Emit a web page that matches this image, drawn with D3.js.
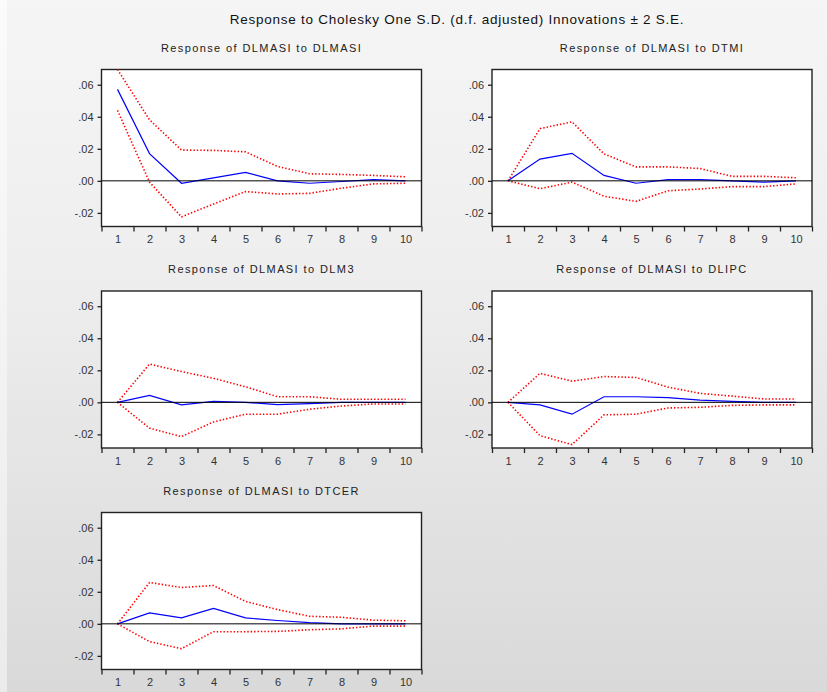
<!DOCTYPE html>
<html>
<head>
<meta charset="utf-8">
<script src="https://cdnjs.cloudflare.com/ajax/libs/d3/7.8.5/d3.min.js"></script>
<style>
  html, body { margin: 0; padding: 0; background: #e8e8e8; }
  svg { display: block; font-family: "Liberation Sans", Arial, sans-serif; }
  .main-title { font-size: 13.5px; fill: #111; letter-spacing: 0.75px; }
  .panel-title { font-size: 11px; fill: #222; letter-spacing: 1.4px; }
  .tick text { font-size: 11px; fill: #333; }
  .tick line { stroke: #222; stroke-width: 1.3; }
  .frame { fill: #fff; stroke: #222; stroke-width: 1.4; }
  .zero-line { stroke: #000; stroke-width: 1; }
  .response-line { fill: none; stroke: #0000ff; stroke-width: 1.2; }
  .band-line { fill: none; stroke: #ff0000; stroke-width: 1.6; stroke-dasharray: 1.4, 2; }
</style>
</head>
<body>
<svg id="chart" width="827" height="692"></svg>
<script>
// Impulse responses of DLMASI

const periods = [1, 2, 3, 4, 5, 6, 7, 8, 9, 10];
const responseName = "DLMASI";
const shockNames = ["DLMASI", "DTMI", "DLM3", "DLIPC", "DTCER"];
const yTickValues = [-0.02, 0.00, 0.02, 0.04, 0.06];
const yTickLabels = ["-.02", ".00", ".02", ".04", ".06"];
const mainTitle = "Response to Cholesky One S.D. (d.f. adjusted) Innovations \u00b1 2 S.E.";

const respDLMASI  = [0.0571, 0.0170, -0.0015, 0.0019, 0.0053, 0.0000, -0.0015, -0.0004, 0.0008, 0.0000];
const upperDLMASI = [0.0695, 0.0381, 0.0192, 0.0190, 0.0181, 0.0090, 0.0044, 0.0040, 0.0034, 0.0025];
const lowerDLMASI = [0.0440, -0.0008, -0.0225, -0.0145, -0.0067, -0.0082, -0.0078, -0.0046, -0.0019, -0.0015];

const respDTMI  = [0.0000, 0.0136, 0.0172, 0.0034, -0.0015, 0.0008, 0.0008, 0.0000, -0.0008, 0.0000];
const upperDTMI = [0.0000, 0.0326, 0.0368, 0.0168, 0.0087, 0.0087, 0.0077, 0.0028, 0.0028, 0.0019];
const lowerDTMI = [0.0000, -0.0049, -0.0008, -0.0096, -0.0128, -0.0062, -0.0051, -0.0036, -0.0036, -0.0019];

const respDLM3  = [0.0000, 0.0043, -0.0016, 0.0006, 0.0000, -0.0014, -0.0008, 0.0000, 0.0000, 0.0000];
const upperDLM3 = [0.0000, 0.0239, 0.0192, 0.0150, 0.0097, 0.0035, 0.0035, 0.0019, 0.0019, 0.0019];
const lowerDLM3 = [0.0000, -0.0161, -0.0214, -0.0122, -0.0074, -0.0074, -0.0043, -0.0023, -0.0010, -0.0010];

const respDLIPC  = [0.0000, -0.0016, -0.0074, 0.0035, 0.0035, 0.0029, 0.0014, 0.0006, 0.0000, 0.0000];
const upperDLIPC = [0.0000, 0.0181, 0.0132, 0.0161, 0.0155, 0.0095, 0.0056, 0.0039, 0.0021, 0.0021];
const lowerDLIPC = [0.0000, -0.0208, -0.0264, -0.0078, -0.0074, -0.0035, -0.0031, -0.0019, -0.0016, -0.0016];

const respDTCER  = [0.0000, 0.0068, 0.0037, 0.0097, 0.0037, 0.0021, 0.0008, 0.0000, 0.0000, 0.0000];
const upperDTCER = [0.0000, 0.0258, 0.0227, 0.0239, 0.0140, 0.0089, 0.0047, 0.0041, 0.0023, 0.0019];
const lowerDTCER = [0.0000, -0.0111, -0.0155, -0.0049, -0.0049, -0.0047, -0.0037, -0.0031, -0.0014, -0.0014];

const responses = [respDLMASI, respDTMI, respDLM3, respDLIPC, respDTCER];
const upperBands = [upperDLMASI, upperDTMI, upperDLM3, upperDLIPC, upperDTCER];
const lowerBands = [lowerDLMASI, lowerDTMI, lowerDLM3, lowerDLIPC, lowerDTCER];

let svg;
let width, height;
let panelW = 320, panelH = 157;
let colX = [101.5, 492];
let rowY = [69.5, 291, 512.5];

/**
 * Background and titles
 */
function drawBackground() {
    const defs = svg.append("defs");
    const grad = defs.append("linearGradient")
        .attr("id", "bg-grad")
        .attr("x1", 0).attr("y1", 0).attr("x2", 0).attr("y2", 1);
    grad.append("stop").attr("offset", "0%").attr("stop-color", "#f5f5f5");
    grad.append("stop").attr("offset", "40%").attr("stop-color", "#eeeeee");
    grad.append("stop").attr("offset", "100%").attr("stop-color", "#d9d9d9");

    const edge = defs.append("linearGradient")
        .attr("id", "edge-grad")
        .attr("x1", 0).attr("y1", 0).attr("x2", 0).attr("y2", 1);
    edge.append("stop").attr("offset", "0%").attr("stop-color", "#fbfbfb");
    edge.append("stop").attr("offset", "100%").attr("stop-color", "#ebebeb");

    svg.append("rect")
        .attr("width", width)
        .attr("height", height)
        .attr("fill", "url(#bg-grad)");

    // lighter strip on the left border
    svg.append("rect")
        .attr("width", 7)
        .attr("height", height)
        .attr("fill", "url(#edge-grad)");

    svg.append("text")
        .attr("class", "main-title")
        .attr("x", 457)
        .attr("y", 24)
        .attr("text-anchor", "middle")
        .text(mainTitle);
}

/**
 * Draw one impulse response panel
 */
function drawPanel(i) {
    const col = i % 2;
    const row = Math.floor(i / 2);

    const g = svg.append("g")
        .attr("class", "panel")
        .attr("transform", `translate(${colX[col]}, ${rowY[row]})`);

    const x = d3.scaleLinear()
        .domain([0.5, periods.length + 0.5])
        .range([0, panelW]);

    const y = d3.scaleLinear()
        .domain([-0.0285, 0.0695])
        .range([panelH, 0]);

    // Title
    g.append("text")
        .attr("class", "panel-title")
        .attr("x", panelW / 2)
        .attr("y", -18)
        .attr("text-anchor", "middle")
        .text(`Response of ${responseName} to ${shockNames[i]}`);

    // White plot area with frame
    g.append("rect")
        .attr("class", "frame")
        .attr("width", panelW)
        .attr("height", panelH);

    // Y axis
    g.append("g")
        .attr("class", "y-axis")
        .call(d3.axisLeft(y)
            .tickValues(yTickValues)
            .tickSize(4)
            .tickPadding(4)
            .tickFormat((d, k) => yTickLabels[k]))
        .call(a => a.select(".domain").remove());

    // X axis: ticks on the period boundaries, labels in the middle
    const bounds = periods.map(p => p - 0.5).concat([periods[periods.length - 1] + 0.5]);
    g.append("g")
        .attr("class", "x-axis-ticks")
        .attr("transform", `translate(0, ${panelH})`)
        .call(d3.axisBottom(x)
            .tickValues(bounds)
            .tickSize(5)
            .tickFormat(""))
        .call(a => a.select(".domain").remove());

    g.append("g")
        .attr("class", "x-axis-labels")
        .attr("transform", `translate(0, ${panelH})`)
        .call(d3.axisBottom(x)
            .tickValues(periods)
            .tickSize(0)
            .tickPadding(9)
            .tickFormat(d3.format("d")))
        .call(a => a.select(".domain").remove());

    const line = d3.line()
        .x((d, k) => x(periods[k]))
        .y(d => y(d));

    // +/- 2 S.E. bands
    g.append("path")
        .datum(upperBands[i])
        .attr("class", "band-line")
        .attr("d", line);

    g.append("path")
        .datum(lowerBands[i])
        .attr("class", "band-line")
        .attr("d", line);

    // Response
    g.append("path")
        .datum(responses[i])
        .attr("class", "response-line")
        .attr("d", line);

    // Zero line
    g.append("line")
        .attr("class", "zero-line")
        .attr("x1", 0)
        .attr("x2", panelW)
        .attr("y1", y(0))
        .attr("y2", y(0));
}

function initChart() {
    svg = d3.select("#chart");
    width = +svg.attr("width");
    height = +svg.attr("height");

    drawBackground();
    shockNames.forEach((name, i) => drawPanel(i));
}

initChart();
</script>
</body>
</html>
